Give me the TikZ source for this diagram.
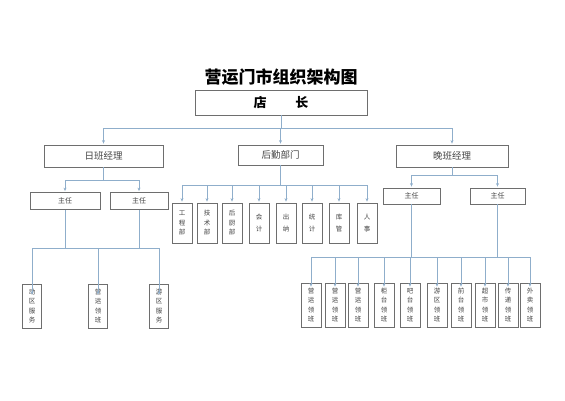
\documentclass[tikz,border=0pt]{standalone}
\usepackage{fontspec}
\newfontfamily\cjk{Noto Sans CJK SC}
\usetikzlibrary{arrows.meta}
\definecolor{boxgray}{HTML}{6E6E6E}
\definecolor{linkblue}{HTML}{8FAECB}
\definecolor{textgray}{HTML}{444444}

\begin{document}
\begin{tikzpicture}[x=1pt,y=-1pt,
  box/.style={draw=boxgray,line width=0.8pt,fill=white,inner sep=0pt,text=textgray},
  mgr/.style={box,font=\cjk\fontsize{9.5}{10}\selectfont},
  lead/.style={box,font=\cjk\fontsize{7}{8}\selectfont,minimum height=17},
  post/.style={box,font=\cjk\fontsize{6.5}{9.5}\selectfont,align=center,minimum width=19},
  link/.style={draw=linkblue,line width=0.8pt},
  arr/.style={link,-{Stealth[length=3.5pt,width=3pt]},shorten >=1pt}]
\useasboundingbox (0,0) rectangle (565,400);
\node[font=\cjk\bfseries\fontsize{17}{18}\selectfont] (title) at (281,77) {营运门市组织架构图};
\node[box,font=\cjk\bfseries\fontsize{13}{14}\selectfont,text=black,minimum width=172,minimum height=25] (boss) at (281,102.5) {店\hspace{2.2em}长};

\node[mgr,minimum width=119,minimum height=22] (day) at (103.5,156) {日班经理};
\node[mgr,minimum width=85,minimum height=20] (back) at (280.5,155) {后勤部门};
\node[mgr,minimum width=112,minimum height=22] (night) at (452,156) {晚班经理};

% level one
\coordinate (j0) at (281,128);
\draw[link] (boss.south) -- (j0);
\draw[link] (day.north |- j0) -- (night.north |- j0);
\foreach \n in {day,back,night}
  \draw[arr] (\n.north |- j0) -- (\n.north);

% day shift
\node[lead,minimum width=70] (d1) at (65,201) {主任};
\node[lead,minimum width=58] (d2) at (139,201) {主任};
\coordinate (jd) at (103.5,180);
\draw[link] (day.south) -- (jd);
\draw[link] (d1.north |- jd) -- (d2.north |- jd);
\foreach \n in {d1,d2}
  \draw[arr] (\n.north |- jd) -- (\n.north);
\coordinate (jdd) at (97,248);
\foreach \x/\t [count=\i] in {32/动\\区\\服\\务, 98/营\\运\\领\\班, 159/游\\区\\服\\务}
  \node[post,minimum height=44] (ds\i) at (\x,306) {\t};
\draw[link] (d1.south) -- (d1.south |- jdd);
\draw[link] (d2.south) -- (d2.south |- jdd);
\draw[link] (ds1.north |- jdd) -- (ds3.north |- jdd);
\foreach \i in {1,2,3}
  \draw[arr] (ds\i.north |- jdd) -- ([yshift=-12pt]ds\i.north);

% logistics
\coordinate (jb) at (280.5,185);
\foreach \x/\t [count=\i] in {182/工\\程\\部, 207/技\\术\\部, 232/后\\厨\\部, 259/会\\[3pt]计, 286/出\\[3pt]纳, 312/统\\[3pt]计, 339/库\\[3pt]管, 367/人\\[3pt]事}
  \node[post,minimum width=20,minimum height=40] (b\i) at (\x,223) {\t};
\draw[link] (back.south) -- (jb);
\draw[link] (b1.north |- jb) -- (b8.north |- jb);
\foreach \i in {1,...,8}
  \draw[arr] (b\i.north |- jb) -- (b\i.north);

% night shift
\node[lead,minimum width=57,minimum height=16] (n1) at (411.5,196) {主任};
\node[lead,minimum width=55,minimum height=16] (n2) at (497.5,196) {主任};
\coordinate (jn) at (452,175);
\draw[link] (night.south) -- (jn);
\draw[link] (n1.north |- jn) -- (n2.north |- jn);
\foreach \n in {n1,n2}
  \draw[arr] (\n.north |- jn) -- (\n.north);
\coordinate (jnn) at (420,257);
\foreach \x/\t [count=\i] in {311/营\\运\\领\\班, 335/营\\运\\领\\班, 358/营\\运\\领\\班, 384/柜\\台\\领\\班, 410/吧\\台\\领\\班, 437/游\\区\\领\\班, 461/前\\台\\领\\班, 485/超\\市\\领\\班, 508/传\\递\\领\\班, 530/外\\卖\\领\\班}
  \node[post,minimum width=20,minimum height=44] (ns\i) at (\x,305) {\t};
\draw[link] (n1.south) -- (n1.south |- jnn);
\draw[link] (n2.south) -- (n2.south |- jnn);
\draw[link] (ns1.north |- jnn) -- (ns10.north |- jnn);
\foreach \i in {1,...,10}
  \draw[arr] (ns\i.north |- jnn) -- ([yshift=-5pt]ns\i.north);
\end{tikzpicture}
\end{document}
